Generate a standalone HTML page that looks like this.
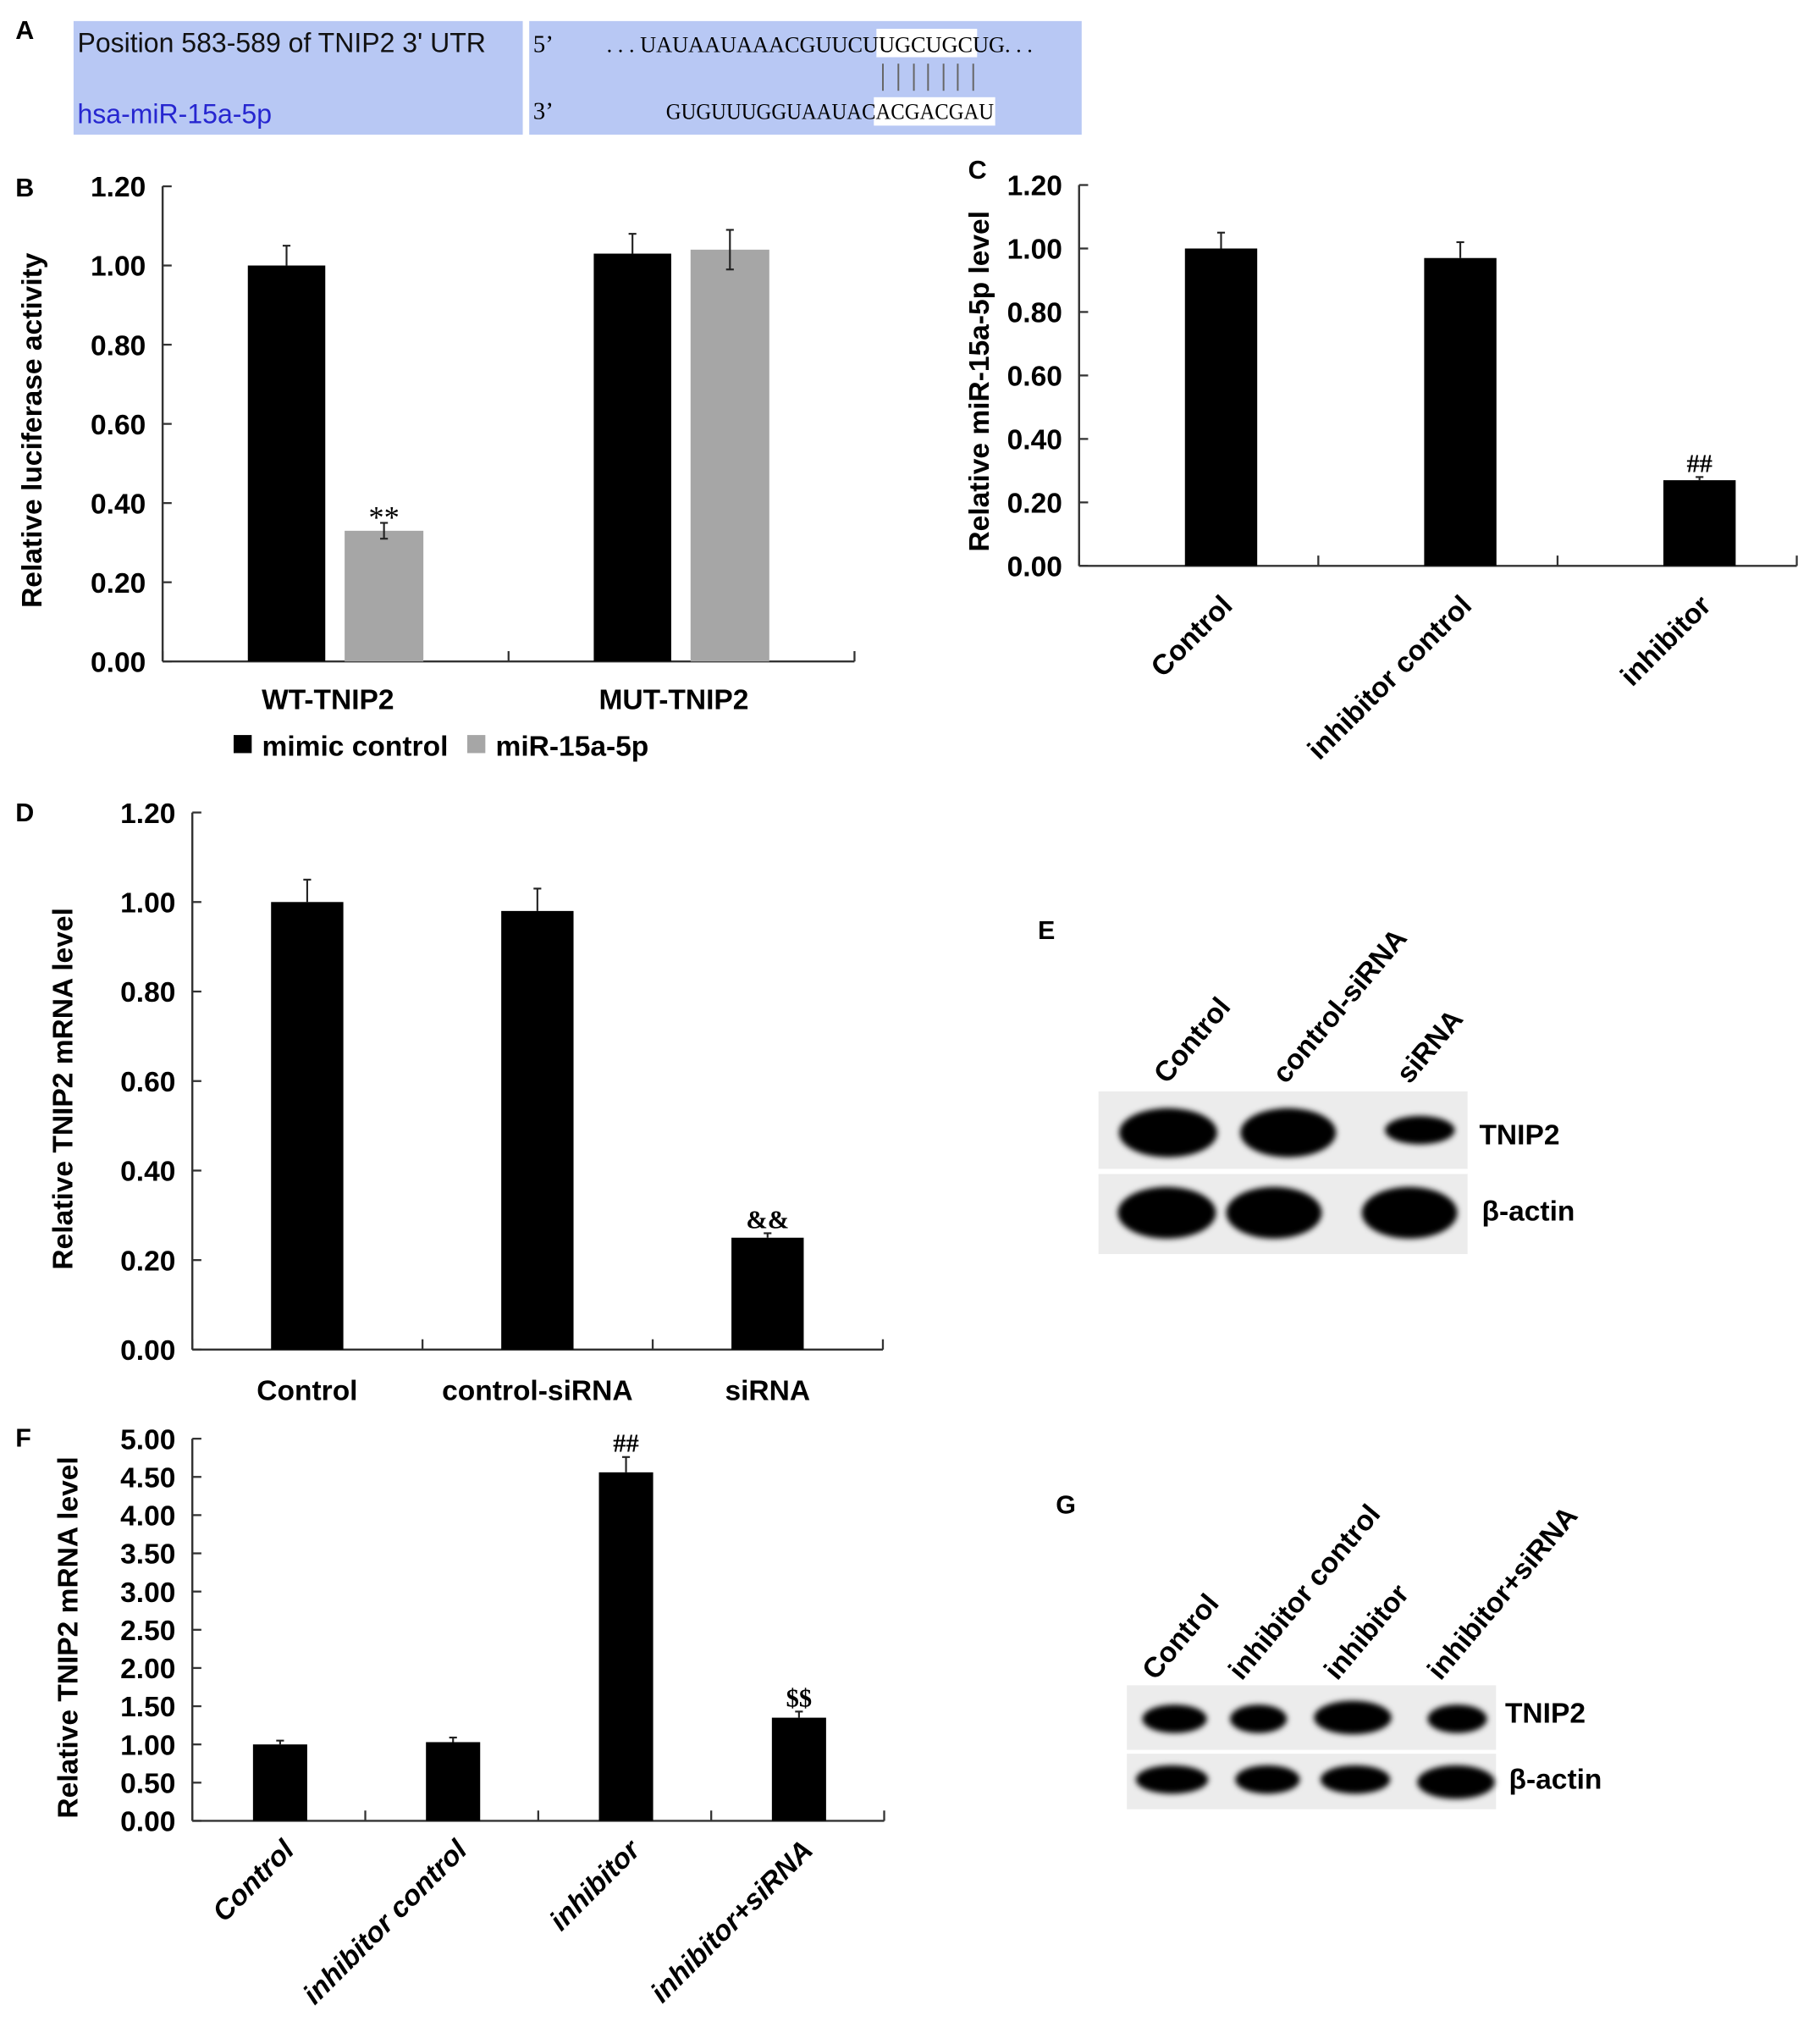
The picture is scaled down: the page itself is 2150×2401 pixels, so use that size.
<!DOCTYPE html>
<html><head><meta charset="utf-8">
<style>
html,body{margin:0;padding:0;background:#fff;}
svg{display:block;}
text{font-family:"Liberation Sans",Arial,sans-serif;}
.b{font-weight:bold;}
</style></head>
<body>
<svg id="fig" width="2150" height="2401" viewBox="0 0 1410 1574" xmlns="http://www.w3.org/2000/svg">
<defs><filter id="blur" x="-20%" y="-40%" width="140%" height="180%"><feGaussianBlur stdDeviation="2.2"/></filter></defs>
<rect width="1410" height="1574" fill="#fff"/>
<!-- Panel A -->
<g>
<text x="12" y="30" class="b" font-size="20">A</text>
<rect x="57" y="16" width="348" height="88" fill="#b8c8f4"/>
<rect x="410" y="16" width="428" height="88" fill="#b8c8f4"/>
<text x="60" y="40" font-size="21" fill="#111">Position 583-589 of TNIP2 3' UTR</text>
<text x="60" y="95" font-size="21" fill="#2626d0">hsa-miR-15a-5p</text>
<rect x="679" y="22" width="78" height="22" fill="#fff"/>
<rect x="677" y="75" width="94" height="22" fill="#fff"/>
<text x="413" y="40" font-size="19" style="font-family:'Liberation Serif',serif">5’</text>
<text x="413" y="92" font-size="19" style="font-family:'Liberation Serif',serif">3’</text>
<text x="470" y="40" font-size="17" textLength="330" lengthAdjust="spacingAndGlyphs" style="font-family:'Liberation Serif',serif">. . . UAUAAUAAACGUUCUUGCUGCUG. . .</text>
<text x="516" y="92" font-size="17" textLength="254" lengthAdjust="spacingAndGlyphs" style="font-family:'Liberation Serif',serif">GUGUUUGGUAAUACACGACGAU</text>
<g stroke="#666" stroke-width="1.3">
<line x1="684" y1="49" x2="684" y2="70"/><line x1="696" y1="49" x2="696" y2="70"/><line x1="708" y1="49" x2="708" y2="70"/><line x1="719" y1="49" x2="719" y2="70"/><line x1="731" y1="49" x2="731" y2="70"/><line x1="742" y1="49" x2="742" y2="70"/><line x1="754" y1="49" x2="754" y2="70"/>
</g>
</g>
<g id="charts"></g>
<!-- Panel E blot -->
<g>
<text x="804" y="727" class="b" font-size="20">E</text>
<rect x="851" y="845" width="286" height="60" fill="#ececec"/>
<rect x="851" y="909" width="286" height="62" fill="#ececec"/>
<g fill="#000" filter="url(#blur)">
<ellipse cx="905" cy="877" rx="38" ry="19"/>
<ellipse cx="998" cy="877" rx="37" ry="19"/>
<ellipse cx="1100" cy="875" rx="27" ry="11"/>
<ellipse cx="904" cy="939" rx="38" ry="20"/>
<ellipse cx="987" cy="939" rx="37" ry="20"/>
<ellipse cx="1092" cy="939" rx="37" ry="20"/>
</g>
<text x="1146" y="886" class="b" font-size="22">TNIP2</text>
<text x="1148" y="945" class="b" font-size="22">β-actin</text>
<text transform="translate(904,840) rotate(-50)" class="b" font-size="22">Control</text>
<text transform="translate(996,840) rotate(-50)" class="b" font-size="22">control-siRNA</text>
<text transform="translate(1092,840) rotate(-50)" class="b" font-size="22">siRNA</text>
</g>
<!-- Panel G blot -->
<g>
<text x="818" y="1172" class="b" font-size="20">G</text>
<rect x="873" y="1305" width="286" height="50" fill="#ececec"/>
<rect x="873" y="1358" width="286" height="43" fill="#ececec"/>
<g fill="#000" filter="url(#blur)">
<ellipse cx="910" cy="1331" rx="25" ry="11"/>
<ellipse cx="975" cy="1331" rx="22" ry="11"/>
<ellipse cx="1048" cy="1330" rx="30" ry="13"/>
<ellipse cx="1129" cy="1331" rx="23" ry="11"/>
<ellipse cx="908" cy="1378" rx="28" ry="11"/>
<ellipse cx="982" cy="1378" rx="25" ry="11"/>
<ellipse cx="1050" cy="1378" rx="27" ry="11"/>
<ellipse cx="1128" cy="1380" rx="30" ry="13"/>
</g>
<text x="1166" y="1334" class="b" font-size="22">TNIP2</text>
<text x="1169" y="1385" class="b" font-size="22">β-actin</text>
<text transform="translate(895,1302) rotate(-50)" class="b" font-size="22">Control</text>
<text transform="translate(962,1302) rotate(-50)" class="b" font-size="22">inhibitor control</text>
<text transform="translate(1036,1302) rotate(-50)" class="b" font-size="22">inhibitor</text>
<text transform="translate(1116,1302) rotate(-50)" class="b" font-size="22">inhibitor+siRNA</text>
</g>
</svg>
<script>
// Panel B data
const bCategories = ["WT-TNIP2", "MUT-TNIP2"];
const bMimic = [1.00, 1.03];
const bMimicErr = [0.05, 0.05];
const bMir = [0.33, 1.04];
const bMirErr = [0.02, 0.05];
const bTicks = ["0.00","0.20","0.40","0.60","0.80","1.00","1.20"];
// Panel C data
const cCategories = ["Control", "inhibitor control", "inhibitor"];
const cValues = [1.00, 0.97, 0.27];
const cErr = [0.05, 0.05, 0.01];
const cMarks = ["", "", "##"];
const cTicks = ["0.00","0.20","0.40","0.60","0.80","1.00","1.20"];
// Panel D data
const dCategories = ["Control", "control-siRNA", "siRNA"];
const dValues = [1.00, 0.98, 0.25];
const dErr = [0.05, 0.05, 0.01];
const dMarks = ["", "", "&&"];
const dTicks = ["0.00","0.20","0.40","0.60","0.80","1.00","1.20"];
// Panel F data
const fCategories = ["Control", "inhibitor control", "inhibitor", "inhibitor+siRNA"];
const fValues = [1.00, 1.03, 4.56, 1.35];
const fErr = [0.05, 0.06, 0.20, 0.08];
const fMarks = ["", "", "##", "$$"];
const fTicks = ["0.00","0.50","1.00","1.50","2.00","2.50","3.00","3.50","4.00","4.50","5.00"];

const NS = "http://www.w3.org/2000/svg";
const root = document.getElementById("charts");
function mk(tag, attrs, parent, txt) {
  const e = document.createElementNS(NS, tag);
  for (const k in attrs) e.setAttribute(k, attrs[k]);
  if (txt !== undefined) e.textContent = txt;
  (parent || root).appendChild(e);
  return e;
}
function axes(g, cfg) {
  const ymax = parseFloat(cfg.ticks[cfg.ticks.length - 1]);
  const y = v => cfg.y0 - (v / ymax) * (cfg.y0 - cfg.y1);
  const ax = mk("line", {x1: cfg.x0, y1: cfg.y1, x2: cfg.x0, y2: cfg.y0, stroke: "#333", "stroke-width": 1.6}, g);
  
  
  const xa = mk("line", {x1: cfg.x0, y1: cfg.y0, x2: cfg.x1, y2: cfg.y0, stroke: "#333", "stroke-width": 1.6}, g);
  
  
  cfg.ticks.forEach(t => {
    const yy = y(parseFloat(t));
    mk("line", {x1: cfg.x0, y1: yy, x2: cfg.x0 + 7, y2: yy, stroke: "#333", "stroke-width": 1.5}, g);
    const tl = mk("text", {x: cfg.x0 - 13, y: yy + 8, "text-anchor": "end", "font-size": 22, "font-weight": "bold"}, g, t);
    
    
  });
  const n = cfg.n;
  const step = (cfg.x1 - cfg.x0) / n;
  for (let i = 0; i <= n; i++) {
    const xx = cfg.x0 + i * step;
    mk("line", {x1: xx, y1: cfg.y0, x2: xx, y2: cfg.y0 - 8, stroke: "#333", "stroke-width": 1.5}, g);
  }
  const tt = mk("text", {transform: `translate(${cfg.tx},${cfg.ty}) rotate(-90)`, "text-anchor": "middle", "font-size": 22, "font-weight": "bold"}, g, cfg.title);
  
  
  const pl = mk("text", {x: cfg.lx, y: cfg.ly, "font-size": 20, "font-weight": "bold"}, g, cfg.letter);
  
  
  return {y, step};
}
function bar(g, x, w, v, err, yf, fill, bidir) {
  const r = mk("rect", {x: x, y: yf(v), width: w, height: yf(0) - yf(v), fill: fill}, g);
  
  
  const cx = x + w / 2;
  const top = yf(v + err), bot = bidir ? yf(v - err) : yf(v);
  mk("line", {x1: cx, y1: top, x2: cx, y2: bot, stroke: "#222", "stroke-width": 1.4}, g);
  mk("line", {x1: cx - 3, y1: top, x2: cx + 3, y2: top, stroke: "#222", "stroke-width": 1.4}, g);
  if (bidir) mk("line", {x1: cx - 3, y1: bot, x2: cx + 3, y2: bot, stroke: "#222", "stroke-width": 1.4}, g);
  return {cx, top};
}
function mark(g, cx, top, s) {
  if (!s) return;
  const m = mk("text", {x: cx, y: top - 4, "text-anchor": "middle", "font-size": 20, "font-weight": "bold", style: "font-family:'Liberation Serif',serif"}, g, s);
  
  
}

// Panel B
(function(){
  const g = mk("g", {});
  
  
  const a = axes(g, {x0:126, x1:662, y0:512, y1:144, n:2, ticks:bTicks, title:"Relative luciferase activity", tx:32, ty:333, letter:"B", lx:12, ly:152});
  bCategories.forEach((c, i) => {
    const base = 126 + i * a.step;
    bar(g, base + 66, 60, bMimic[i], bMimicErr[i], a.y, "#000", false);
    const r2 = bar(g, base + 141, 61, bMir[i], bMirErr[i], a.y, "#a6a6a6", true);
    if (i === 0) { const s = mk("text", {x: r2.cx, y: a.y(bMir[i] + bMirErr[i]) + 4, "text-anchor": "middle", "font-size": 24, style:"font-family:'Liberation Serif',serif"}, g, "**");   }
    const t = mk("text", {x: base + a.step / 2 - 6, y: 549, "text-anchor": "middle", "font-size": 22, "font-weight": "bold"}, g, c);
    
    
  });
  const l1 = mk("rect", {x:181, y:569, width:14, height:14, fill:"#000"}, g);
  
  
  const t1 = mk("text", {x:203, y:585, "font-size": 22, "font-weight":"bold"}, g, "mimic control");
  
  
  const l2 = mk("rect", {x:362, y:569, width:14, height:14, fill:"#a6a6a6"}, g);
  
  
  const t2 = mk("text", {x:384, y:585, "font-size": 22, "font-weight":"bold"}, g, "miR-15a-5p");
  
  
})();

function simple(cfg, cats, vals, errs, marks, barW, offs, rotated, italic, lblDX, lblY) {
  const g = mk("g", {});
  
  
  const a = axes(g, cfg);
  cats.forEach((c, i) => {
    const base = cfg.x0 + i * a.step;
    const r = bar(g, base + offs, barW, vals[i], errs[i], a.y, "#000", false);
    mark(g, r.cx, r.top, marks[i]);
    let t;
    if (rotated) {
      t = mk("text", {transform: `translate(${r.cx + lblDX},${lblY}) rotate(-45)`, "text-anchor": "end", "font-size": 22, "font-weight": "bold", "font-style": italic ? "italic" : "normal"}, g, c);
    } else {
      t = mk("text", {x: r.cx, y: lblY, "text-anchor": "middle", "font-size": 22, "font-weight": "bold"}, g, c);
    }
    
    
  });
}
simple({name:"panel-c-chart", x0:836, x1:1392, y0:438, y1:143, n:3, ticks:cTicks, title:"Relative miR-15a-5p level", tx:766, ty:295, letter:"C", lx:750, ly:138}, cCategories, cValues, cErr, cMarks, 56, 82, true, false, 10, 470);
simple({name:"panel-d-chart", x0:149, x1:684, y0:1045, y1:629, n:3, ticks:dTicks, title:"Relative TNIP2 mRNA level", tx:56, ty:843, letter:"D", lx:12, ly:636}, dCategories, dValues, dErr, dMarks, 56, 61, false, false, 0, 1084);
simple({name:"panel-f-chart", x0:149, x1:685, y0:1410, y1:1114, n:4, ticks:fTicks, title:"Relative TNIP2 mRNA level", tx:60, ty:1268, letter:"F", lx:12, ly:1120}, fCategories, fValues, fErr, fMarks, 42, 47, true, true, 12, 1434);
</script>
</body></html>
